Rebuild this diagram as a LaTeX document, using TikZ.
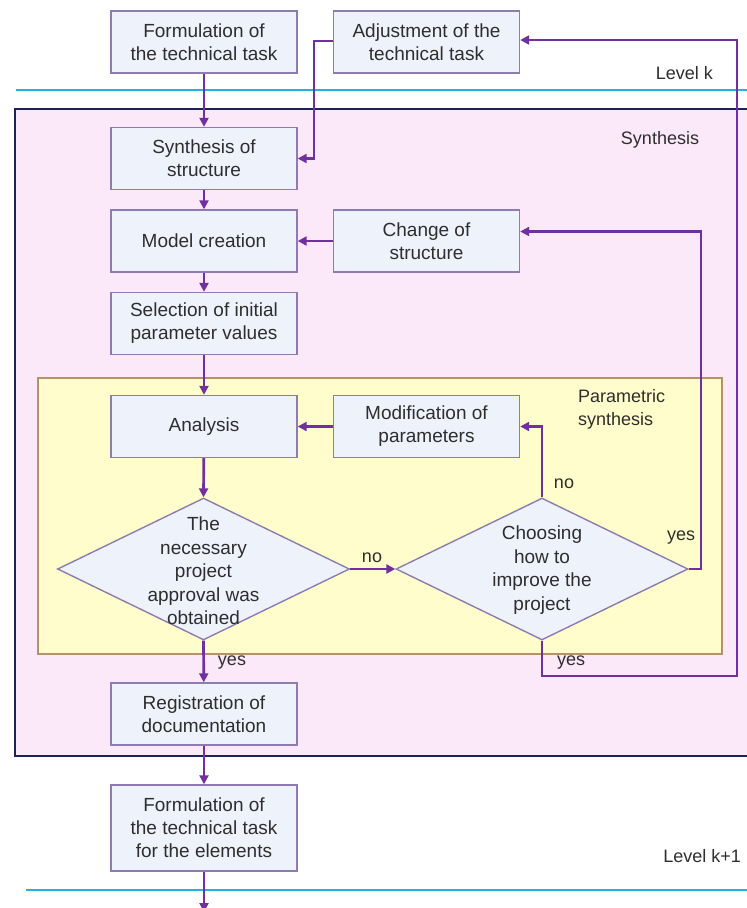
\documentclass[tikz,border=0pt]{standalone}
\usepackage{fontspec}
\setmainfont{Liberation Sans}
\usetikzlibrary{shapes.geometric,arrows.meta,calc}
\definecolor{flow}{HTML}{7030A0}
\definecolor{boxline}{HTML}{8E7CB0}
\definecolor{boxfill}{HTML}{EEF2FB}
\definecolor{levelline}{HTML}{2AAEE6}
\definecolor{synline}{HTML}{1B2358}
\definecolor{synfill}{HTML}{FBE8F8}
\definecolor{parfill}{HTML}{FFFDCB}
\definecolor{parline}{HTML}{B8906A}
\definecolor{txt}{HTML}{2E2E2E}
\begin{document}
\begin{tikzpicture}[x=1pt,y=-1pt,
  every node/.style={text=txt},
  stepbox/.style={draw=boxline, line width=1.4pt, fill=boxfill,
    minimum width=186pt, minimum height=62pt, align=center,
    font=\fontsize{19}{23}\selectfont, inner sep=0pt},
  decision/.style={draw=boxline, line width=1.4pt, fill=boxfill, diamond,
    minimum width=292pt, minimum height=142pt, inner sep=0pt},
  decisiontext/.style={align=center, font=\fontsize{19}{23.5}\selectfont, inner sep=0pt},
  tag/.style={font=\fontsize{18}{23}\selectfont, inner sep=0pt},
  flowline/.style={draw=flow, line width=2.7pt, line join=miter,
    -{Triangle[length=9pt,width=9pt]}},
  levelrule/.style={draw=levelline, line width=2.8pt}
]
\useasboundingbox (0,0) rectangle (747,908);
\fill[white] (0,0) rectangle (747,908);

% level rules
\draw[levelrule] (16,90) -- (747,90);
\draw[levelrule] (26,890) -- (747,890);
\node[tag, anchor=east] (levk) at (713,73) {Level~k};
\node[tag, anchor=east] (levk1) at (741,856) {Level~k+1};

% synthesis region and parametric sub-region
\draw[draw=synline, fill=synfill, line width=2.8pt] (15,109) rectangle (760,756);
\node[tag] (synlabel) at (660,140) {Synthesis};
\draw[draw=parline, fill=parfill, line width=1.4pt] (38,378) rectangle (722,654);
\node[tag, align=left, anchor=west] (parlabel) at (578,409) {Parametric\\synthesis};

% process steps
\node[stepbox] (b1) at (204,42) {Formulation of\\the technical task};
\node[stepbox] (b2) at (426.5,42) {Adjustment of the\\technical task};
\node[stepbox] (b3) at (204,158.5) {Synthesis of\\structure};
\node[stepbox] (b4) at (204,241) {Model creation};
\node[stepbox] (b5) at (426.5,241) {Change of\\structure};
\node[stepbox] (b6) at (204,323.5) {Selection of initial\\parameter values};
\node[stepbox] (b7) at (204,426.5) {Analysis};
\node[stepbox] (b8) at (426.5,426.5) {Modification of\\parameters};
\node[stepbox] (b9) at (204,714) {Registration of\\documentation};
\node[stepbox, minimum height=86pt] (b10) at (204,828) {Formulation of\\the technical task\\for the elements};

% decisions
\node[decision] (d1) at (203.5,569) {};
\node[decisiontext] (d1t) at (203.5,571) {The\\necessary\\project\\approval was\\obtained};
\node[decision] (d2) at (542,569) {};
\node[decisiontext] (d2t) at (542,570) {Choosing\\how to\\improve the\\project};

% main flow
\draw[flowline] (b1) -- (b3);
\draw[flowline] (b3) -- (b4);
\draw[flowline] (b4) -- (b6);
\draw[flowline] (b6) -- (b7);
\draw[flowline] (b7) -- (d1.north);
\draw[flowline] (d1.south) -- (b9);
\draw[flowline] (b9) -- (b10);
\coordinate (next) at (204,912);
\draw[flowline] (b10) -- (next);

% feedback loops
\draw[flowline] (b5) -- (b4);
\draw[flowline] (b8) -- (b7);
\draw[flowline] (d1.east) -- (d2.west);
\coordinate (adjturn) at (314,41);
\draw[flowline] ([yshift=1pt]b2.west) -- (adjturn) |- (b3.east);
\draw[flowline] (d2.north) |- (b8.east);
\coordinate (structturn) at (701,569);
\draw[flowline] (d2.east) -- (structturn) |- ([yshift=9.5pt]b5.east);
\coordinate (taskturn) at (737,676);
\draw[flowline] (d2.south) |- (taskturn) |- ([yshift=2pt]b2.east);

% branch labels
\node[tag] (no1) at (372,558) {no};
\node[tag] (no2) at (564,484) {no};
\node[tag] (yes1) at (681,538) {yes};
\node[tag] (yes2) at (232,663) {yes};
\node[tag] (yes3) at (571,663) {yes};
\end{tikzpicture}
\end{document}
